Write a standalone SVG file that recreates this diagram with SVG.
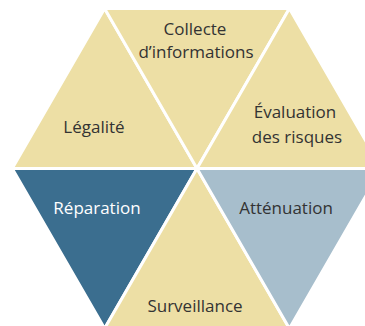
<svg xmlns="http://www.w3.org/2000/svg" width="365" height="326" viewBox="0 0 365 326">
<style>
.tri{stroke:#fff;stroke-width:3;stroke-linejoin:miter}
.tan{fill:#EDDFA5}
.dark{fill:#3B6E8F}
.light{fill:#A7BECC}
text{font-family:"Open Sans","Noto Sans",sans-serif;font-size:17px;text-anchor:middle;fill:#333}
.w{fill:#fff}
</style>
<rect width="365" height="326" fill="#fff"/>
<g id="legalite"><polygon class="tri tan" points="104.6,8.5 197,168.5 12.2,168.5"/><text x="94" y="133">Légalité</text></g>
<g id="collecte"><polygon class="tri tan" points="104.6,8.5 289.4,8.5 197,168.5"/><text x="195" y="35">Collecte</text><text x="196" y="58">d’informations</text></g>
<g id="evaluation"><polygon class="tri tan" points="289.4,8.5 381.8,168.5 197,168.5"/><text x="295" y="118">Évaluation</text><text x="297" y="143">des risques</text></g>
<g id="reparation"><polygon class="tri dark" points="12.2,168.5 197,168.5 104.6,328.5"/><text class="w" x="97" y="214">Réparation</text></g>
<g id="surveillance"><polygon class="tri tan" points="197,168.5 289.4,328.5 104.6,328.5"/><text x="195" y="312">Surveillance</text></g>
<g id="attenuation"><polygon class="tri light" points="197,168.5 381.8,168.5 289.4,328.5"/><text x="286" y="214">Atténuation</text></g>
<g id="connectors"/>
</svg>
